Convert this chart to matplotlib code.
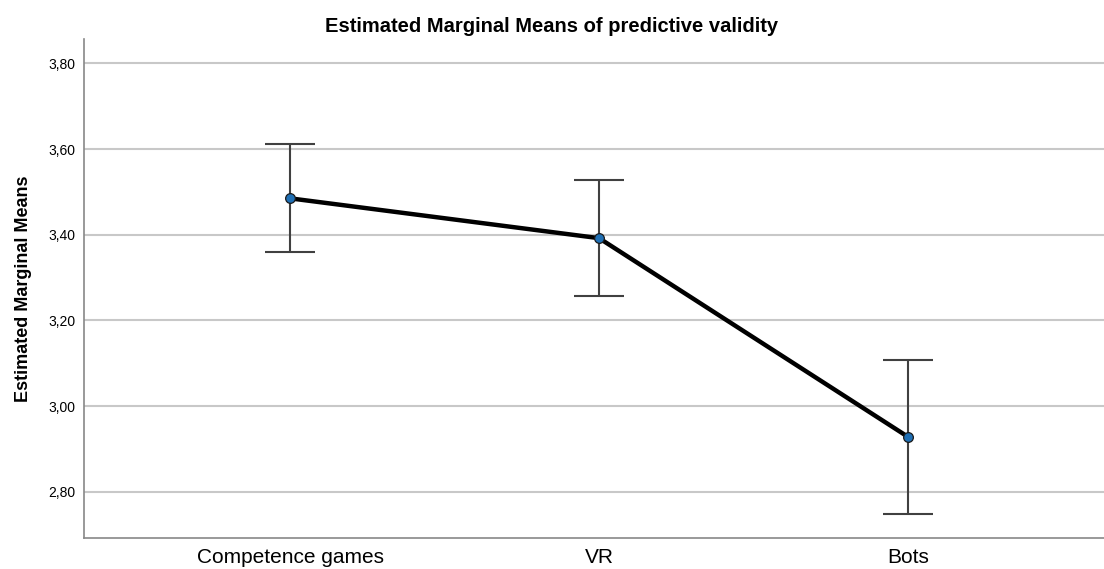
import matplotlib
matplotlib.use("Agg")
import matplotlib.pyplot as plt

categories = ["Competence games", "VR", "Bots"]
means = [3.485, 3.392, 2.928]
upper = [3.611, 3.527, 3.108]
lower = [3.359, 3.256, 2.749]
yticks = [2.80, 3.00, 3.20, 3.40, 3.60, 3.80]

plt.rcParams['font.family'] = ['Liberation Sans', 'DejaVu Sans']

fig = plt.figure(figsize=(11.04, 5.69), dpi=100)
ax = fig.add_axes([84/1104, 31/569, 1 - 84/1104, 499/569])

x = list(range(len(categories)))
yerr = [[m - l for m, l in zip(means, lower)], [u - m for u, m in zip(upper, means)]]
ax.errorbar(x, means, yerr=yerr, fmt='none', ecolor='#404040', elinewidth=1.5,
            capsize=18, capthick=1.5, zorder=3)
ax.plot(x, means, color='black', linewidth=3.2, zorder=4)
ax.plot(x, means, 'o', markersize=7, markerfacecolor='#1f6fb4',
        markeredgecolor='#1a1a1a', markeredgewidth=0.9, zorder=5)

ax.set_xlim(-0.667, 2.634)
ax.set_ylim(2.692, 3.857)
ax.set_yticks(yticks)
ax.set_yticklabels([f"{v:.2f}".replace('.', ',') for v in yticks], fontsize=10)
ax.set_xticks(x)
ax.set_xticklabels(categories, fontsize=15)
ax.tick_params(axis='both', length=0, pad=6)
ax.tick_params(axis='x', pad=7)
ax.grid(axis='y', color='#c8c8c8', linewidth=1.5)
ax.set_axisbelow(True)
for s in ['top', 'right']:
    ax.spines[s].set_visible(False)
for s in ['left', 'bottom']:
    ax.spines[s].set_color('#888888')
    ax.spines[s].set_linewidth(1.2)

fig.text(0.5, 1 - 27/569, "Estimated Marginal Means of predictive validity",
         fontsize=14.5, fontweight='bold', ha='center', va='center')
ax.set_ylabel("Estimated Marginal Means", fontsize=13, fontweight='bold', labelpad=12)

fig.savefig("out.png", dpi=100)
